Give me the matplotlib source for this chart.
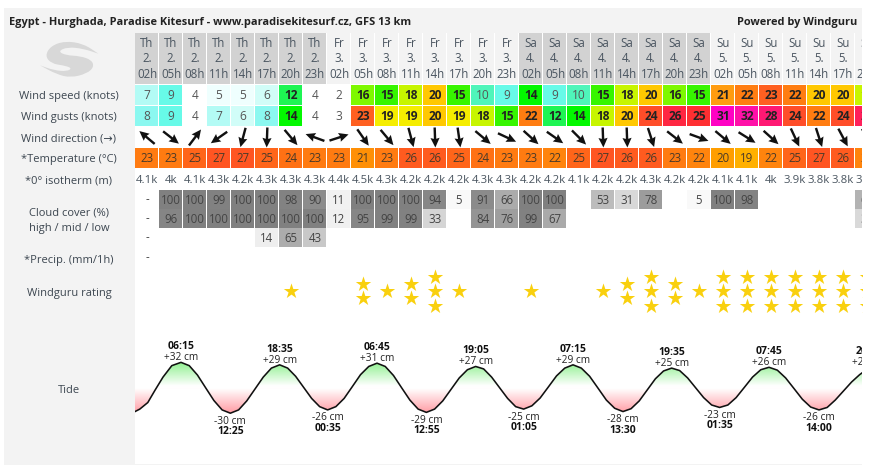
import matplotlib
matplotlib.use('Agg')
import matplotlib.pyplot as plt
import numpy as np
from matplotlib.colors import LinearSegmentedColormap, Normalize
from matplotlib.patches import PathPatch, Rectangle
from matplotlib.path import Path

plt.rcParams['font.family'] = ['Open Sans', 'DejaVu Sans']

# Forecast table, one entry per 3 hour column (last column is cut off by the frame)
days = ['Th'] * 8 + ['Fr'] * 8 + ['Sa'] * 8 + ['Su'] * 7
dates = ['2.'] * 8 + ['3.'] * 8 + ['4.'] * 8 + ['5.'] * 7
hours = ['02h', '05h', '08h', '11h', '14h', '17h', '20h', '23h'] * 3 + ['02h', '05h', '08h', '11h', '14h', '17h', '20h']

wind_speed = [7, 9, 4, 5, 5, 6, 12, 4, 2, 16, 15, 18, 20, 15, 10, 9, 14, 9, 10, 15, 18, 20, 16, 15, 21, 22, 23, 22, 20, 20, 18]
wind_gusts = [8, 9, 4, 7, 6, 8, 14, 4, 3, 23, 19, 19, 20, 19, 18, 15, 22, 12, 14, 18, 20, 24, 26, 25, 31, 32, 28, 24, 22, 24, 27]
# heading of the arrow in degrees, counter clockwise from east
wind_heading = [140, -38, 53, -145, -105, -92, -50, 160, 18, -55, -50, -75, -88, -82, -40, -25,
                -42, -35, -45, -88, -88, -72, -38, -20, -40, -32, -42, -65, -72, -62, -60]
temperature = [23, 23, 25, 27, 27, 25, 24, 23, 23, 21, 23, 26, 26, 25, 24, 23, 23, 22, 25, 27, 26, 26, 23, 22, 20, 19, 22, 25, 27, 26, 22]
isotherm = ['4.1k', '4k', '4.1k', '4.3k', '4.2k', '4.3k', '4.3k', '4.3k', '4.4k', '4.5k', '4.3k', '4.2k', '4.2k', '4.2k', '4.3k', '4.3k',
            '4.2k', '4.2k', '4.1k', '4.2k', '4.2k', '4.3k', '4.2k', '4.2k', '4.1k', '4.1k', '4k', '3.9k', '3.8k', '3.8k', '3.8k']
cloud_high = [None, 100, 100, 99, 100, 100, 98, 90, 11, 100, 100, 100, 94, 5, 91, 66, 100, 100, 0, 53, 31, 78, 0, 5, 100, 98, 0, 0, 0, 0, 60]
cloud_mid = [None, 96, 100, 100, 100, 100, 100, 100, 12, 95, 99, 99, 33, 0, 84, 76, 99, 67, 0, 0, 0, 0, 0, 0, 0, 0, 0, 0, 0, 0, 30]
cloud_low = [None, 0, 0, 0, 0, 14, 65, 43, 0, 0, 0, 0, 0, 0, 0, 0, 0, 0, 0, 0, 0, 0, 0, 0, 0, 0, 0, 0, 0, 0, 0]
stars = [0, 0, 0, 0, 0, 0, 1, 0, 0, 2, 1, 2, 3, 1, 0, 0, 1, 0, 0, 1, 2, 3, 2, 1, 3, 3, 3, 3, 3, 3, 3]

# Tide: hours since Thursday 00:00 and height in cm
tide_hour = [0.5, 1.1, 2.1, 3.0, 4.0, 5.1, 6.25,
             7.28, 8.31, 9.33, 10.36, 11.39, 12.42,
             13.45, 14.47, 15.5, 16.53, 17.55, 18.58,
             19.58, 20.58, 21.58, 22.58, 23.58, 24.58,
             25.61, 26.64, 27.67, 28.69, 29.72, 30.75,
             31.78, 32.81, 33.83, 34.86, 35.89, 36.92,
             37.95, 38.97, 40.0, 41.03, 42.05, 43.08,
             44.08, 45.08, 46.08, 47.08, 48.08, 49.08,
             50.11, 51.14, 52.17, 53.19, 54.22, 55.25,
             56.29, 57.33, 58.38, 59.42, 60.46, 61.5,
             62.51, 63.53, 64.54, 65.55, 66.57, 67.58,
             68.58, 69.58, 70.58, 71.58, 72.58, 73.58,
             74.61, 75.64, 76.67, 77.69, 78.72, 79.75,
             80.79, 81.83, 82.88, 83.92, 84.96, 86.0,
             87.02, 88.03, 89.05, 90.07, 91.08, 91.5]
tide_cm = [-28, -25, -17, -2, 14, 28, 32,
           28, 16.5, 1, -14.5, -26, -30,
           -26, -15, -0.5, 14, 25, 29,
           25, 15, 1.5, -12, -22, -26,
           -22, -12, 2.5, 17, 27, 31,
           27, 16, 1, -14, -25, -29,
           -25, -15, -1, 13, 23, 27,
           24, 14, 1, -12, -22, -25,
           -21, -11.5, 2, 15.5, 25, 29,
           25, 15, 0.5, -14, -24, -28,
           -24.5, -15, -1.5, 12, 21.5, 25,
           22, 13, 1, -11, -20, -23,
           -20, -11, 1.5, 14, 23, 26,
           22.5, 13, 0, -13, -22.5, -26,
           -23, -14, -3, 8, 17, 20]

# high and low water labels
tide_times = ['06:15', '12:25', '18:35', '00:35', '06:45', '12:55', '19:05', '01:05', '07:15', '13:30', '19:35', '01:35', '07:45', '14:00', '20:15']
tide_label_hour = [6.25, 12.42, 18.58, 24.58, 30.75, 36.92, 43.08, 49.08, 55.25, 61.5, 67.58, 73.58, 79.75, 86.0, 92.25]
tide_label_cm = [32, -30, 29, -26, 31, -29, 27, -25, 29, -28, 25, -23, 26, -26, 26]

row_labels = ['Wind speed (knots)', 'Wind gusts (knots)', 'Wind direction (\u2192)', '*Temperature (\u00b0C)', '*0\u00b0 isotherm (m)']

wind_cmap = LinearSegmentedColormap.from_list('wind', [
    (0 / 32, '#ffffff'), (4.4 / 32, '#ffffff'), (5 / 32, '#f0fffe'), (6 / 32, '#d2fdf8'), (7 / 32, '#b4fbf5'),
    (8 / 32, '#8cf8f0'), (9 / 32, '#68faea'), (10 / 32, '#50f5bc'), (12 / 32, '#1ff555'), (14 / 32, '#00f800'),
    (15 / 32, '#33f500'), (16 / 32, '#7cf800'), (18 / 32, '#c4f500'), (19 / 32, '#f4f000'), (20 / 32, '#ffcc00'),
    (21 / 32, '#ff9f10'), (22 / 32, '#ff8010'), (23 / 32, '#ff6220'), (24 / 32, '#ff5028'), (25 / 32, '#ff3030'),
    (26 / 32, '#ff2840'), (28 / 32, '#ff1a70'), (31 / 32, '#ff00c8'), (32 / 32, '#ff10a8')])
wind_norm = Normalize(0, 32)
temp_cmap = LinearSegmentedColormap.from_list('temp', ['#ffb000', '#ff9c00', '#ff8c08', '#ff8010', '#ff7612', '#ff6818', '#ff5c1e', '#ff5522'])
temp_norm = Normalize(19, 27)
cloud_cmap = LinearSegmentedColormap.from_list('cloud', ['#ffffff', '#808080'])
cloud_norm = Normalize(0, 100)

W, H = 870, 465
PANEL = '#f3f3f3'
TEXT = '#3c4650'
LABEL = 8.0


def px_axes(left, top, right, bottom):
    return fig.add_axes([left / W, 1 - bottom / H, (right - left) / W, (bottom - top) / H])


fig = plt.figure(figsize=(W / 100, H / 100), dpi=100, facecolor='white')

# background frame in pixel coordinates
bg = fig.add_axes([0, 0, 1, 1])
bg.set_xlim(0, W)
bg.set_ylim(H, 0)
bg.axis('off')
bg.add_patch(Rectangle((4, 8), 858, 25, color=PANEL, lw=0))
bg.add_patch(Rectangle((4, 8), 131, H - 8, color=PANEL, lw=0))
bg.add_patch(Rectangle((4, 463.5), 858, 1.5, color=PANEL, lw=0))

bg.text(9.5, 22, 'Egypt - Hurghada, Paradise Kitesurf - www.paradisekitesurf.cz, GFS 13 km',
        fontsize=7.95, fontweight='bold', color='#222222', va='center', ha='left')
bg.text(857, 22, 'Powered by Windguru', fontsize=7.95, fontweight='bold', color='#222222', va='center', ha='right')

for label, y in zip(row_labels, [96.5, 117.5, 138.5, 159.5, 181]):
    bg.text(69, y, label, fontsize=LABEL, color=TEXT, ha='center', va='center')
bg.text(69, 213, 'Cloud cover (%)', fontsize=LABEL, color=TEXT, ha='center', va='center')
bg.text(69, 228, 'high / mid / low', fontsize=LABEL, color=TEXT, ha='center', va='center')
bg.text(69, 260, '*Precip. (mm/1h)', fontsize=LABEL, color=TEXT, ha='center', va='center')
bg.text(69, 293, 'Windguru rating', fontsize=LABEL, color=TEXT, ha='center', va='center')
bg.text(69, 390, 'Tide', fontsize=LABEL, color=TEXT, ha='center', va='center')

# swirl logo, outline points joined with quadratic curves
logo = np.array([(45, 72), (62, 42), (105, 27), (160, 35), (205, 65), (205, 65), (160, 50), (112, 45), (84, 58), (108, 70),
                 (150, 72), (185, 84), (192, 105), (170, 125), (122, 137), (80, 127), (30, 100), (30, 100), (72, 115),
                 (112, 118), (126, 108), (100, 100), (65, 95)]) / 3 + (30, 32)
mids = (logo + np.roll(logo, -1, axis=0)) / 2
verts = [mids[-1]]
codes = [Path.MOVETO]
for ctrl, mid in zip(logo, np.roll(mids, 0, axis=0)):
    verts += [ctrl, mid]
    codes += [Path.CURVE3, Path.CURVE3]
bg.add_patch(PathPatch(Path(verts, codes), facecolor='#d8d8d8', lw=0))

# forecast grid: x is the column number, y stays in pixels
grid = px_axes(135, 33, 862, 330)
grid.set_xlim(-0.5, 29.79)
grid.set_ylim(330, 33)
grid.axis('off')
grid.patch.set_alpha(0)
x = np.arange(len(days))


def cells(top, height, colors):
    grid.bar(x - 0.5, height, 23.3 / 24, bottom=top, color=colors, align='edge', lw=0)


def values(y, texts, colors='#444444', weights='normal', size=8.0):
    n = len(texts)
    colors = [colors] * n if isinstance(colors, str) else colors
    weights = [weights] * n if isinstance(weights, str) else weights
    for i in range(n):
        grid.text(i, y, texts[i], color=colors[i], fontweight=weights[i], fontsize=size,
                  ha='center', va='center', clip_on=True)


# header
cells(33, 51, ['#d2d2d2' if d in ('Th', 'Sa') else '#f3f3f3' for d in days])
values(43, days, '#4a5560', size=8.3)
values(58.5, dates, '#4a5560', size=8.3)
values(74, hours, '#4a5560', size=8.3)

# wind speed and gusts
for top, series in [(85, wind_speed), (106, wind_gusts)]:
    cells(top, 20, [wind_cmap(wind_norm(v)) for v in series])
    values(top + 10.5, [str(v) for v in series],
           ['#222222' if v >= 12 else '#555555' for v in series],
           ['bold' if v >= 12 else 'normal' for v in series], size=8.6)

# wind direction
rad = np.radians(wind_heading)
grid.quiver(x, [137.5] * len(x), np.cos(rad), np.sin(rad), angles='uv', scale_units='dots', scale=1 / 20,
            units='dots', width=2.4, headwidth=3.8, headlength=4, headaxislength=3.6, pivot='mid', color='#111111')

# temperature
cells(148, 20, [temp_cmap(temp_norm(v)) for v in temperature])
values(158.5, [str(v) for v in temperature], '#4a3a28', size=8.3)

# freezing level
values(180.5, isotherm, '#4a5560', size=8.2)

# clouds, no value means no data and 0 stays empty
for top, series in [(190, cloud_high), (209, cloud_mid), (228, cloud_low)]:
    nums = [v or 0 for v in series]
    grid.bar(x - 0.5, 19 if top < 228 else 18.5, 23.3 / 24, bottom=top,
             color=[cloud_cmap(cloud_norm(v)) for v in nums], align='edge', lw=0)
    labels = ['-' if v is None else (str(v) if v > 0 else '') for v in series]
    values(top + 10, labels, '#444444', size=8.3)
values(258, ['-'] + [''] * (len(x) - 1), '#444444', size=8.3)

# stars, centred round the rating row
star_x, star_y = [], []
for i, n in enumerate(stars):
    offsets = {1: [0], 2: [-7, 7], 3: [-14.5, 0, 14.5]}.get(n, [])
    for off in offsets:
        star_x.append(i)
        star_y.append(291 + off)
grid.scatter(star_x, star_y, marker='*', s=135, color='#f9d00e', lw=0)

# tide, x in hours so that a column is 3 hours wide
tide = px_axes(135, 330, 862, 463.5)
tide.axis('off')
tide.patch.set_alpha(0)

tide_x = np.array(tide_hour)
tide_y = np.array(tide_cm)
tide_cmap = LinearSegmentedColormap.from_list('tide', [(0, '#ff9ca4'), (30 / 62, '#ffffff'), (33 / 62, '#ffffff'), (1, '#90f090')])
ramp = np.linspace(32, -30, 200).reshape(-1, 1)
im = tide.imshow(ramp, cmap=tide_cmap, vmin=-30, vmax=32, extent=(0.5, 91.375, -30, 32), aspect='auto', zorder=1)
shape = tide.fill_between(tide_x, tide_y, 0, color='none', lw=0)
im.set_clip_path(shape.get_paths()[0], transform=tide.transData)
tide.set_xlim(0.5, 91.375)
tide.set_ylim((388.6 - 463.5) / 0.82, (388.6 - 330) / 0.82)
tide.plot(tide_x, tide_y, color='#111111', lw=1.15, zorder=3)

for t, cm, when in zip(tide_label_hour, tide_label_cm, tide_times):
    sign = 1 if cm > 0 else -1
    height = f'+{cm} cm' if cm > 0 else f'{cm} cm'
    near = 4.5 if cm > 0 else 8.0
    far = 15.5 if cm > 0 else 18.5
    tide.annotate(height, (t, cm), xytext=(0, sign * near * 0.72), textcoords='offset points', fontsize=7.3,
                  color='#222222', ha='center', va='center', annotation_clip=False, clip_on=True)
    tide.annotate(when, (t, cm), xytext=(0, sign * far * 0.72), textcoords='offset points', fontsize=7.5,
                  fontweight='bold', color='#111111', ha='center', va='center', annotation_clip=False, clip_on=True)

fig.savefig('out.png', dpi=100)
